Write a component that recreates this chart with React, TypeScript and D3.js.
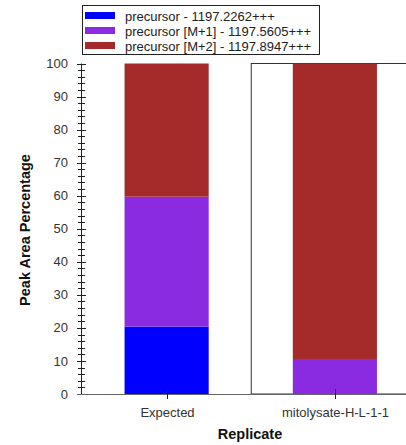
import React from "react";
import * as d3 from "d3";

const categories = ["Expected", "mitolysate-H-L-1-1"];
const seriesNames = [
  "precursor - 1197.2262+++",
  "precursor [M+1] - 1197.5605+++",
  "precursor [M+2] - 1197.8947+++",
];
const seriesColors = ["#0000FF", "#8A2BE2", "#A52A2A"];
const precursorM0 = [20.4, 0];
const precursorM1 = [39.3, 10.6];
const precursorM2 = [40.3, 89.4];
const yTicks = [0, 10, 20, 30, 40, 50, 60, 70, 80, 90, 100];
const selectedCategory = "mitolysate-H-L-1-1";

const W = 406;
const H = 445;
const FONT = "'Liberation Sans', Arial, sans-serif";

export default function App() {
  const left = 81;
  const top = 63.5;
  const bottom = 394;
  const x = d3.scaleBand().domain(categories).range([82.5, 419]).paddingInner(0).paddingOuter(0);
  const y = d3.scaleLinear().domain([0, 100]).range([bottom, top]);
  const minor = d3.range(0, 101, 2).filter((v) => v % 10 !== 0);

  const rows = categories.map((c, i) => ({
    cat: c,
    vals: [precursorM0[i], precursorM1[i], precursorM2[i]],
  }));
  const stack = d3
    .stack<any>()
    .keys(["0", "1", "2"])
    .value((d: any, k: string) => d.vals[+k]);
  const stacked = stack(rows);
  const bw = x.bandwidth() * 0.5;

  const selX = x(selectedCategory)!;

  return (
    <svg width={W} height={H} style={{ position: "absolute", left: 0, top: 0 }} fontFamily={FONT}>
      <rect x={0} y={0} width={W} height={H} fill="#fff" />
      {/* highlight box */}
      <rect x={selX + 0.5} y={top} width={x.bandwidth()} height={bottom - top} fill="none" stroke="#333" strokeWidth={1} />
      {/* bars */}
      {stacked.map((layer, li) =>
        layer.map((d: any, ci) => {
          const cx = x(d.data.cat)! + x.bandwidth() / 2;
          const h = y(d[0]) - y(d[1]);
          if (h <= 0) return null;
          return (
            <rect
              key={li + "-" + ci}
              x={cx - bw / 2}
              y={y(d[1])}
              width={bw}
              height={h}
              fill={seriesColors[li]}
            />
          );
        })
      )}
      {/* y axis */}
      <line x1={left + 0.5} x2={left + 0.5} y1={top} y2={bottom} stroke="#222" />
      {yTicks.map((t) => (
        <g key={t}>
          <line x1={left - 4} x2={left + 5} y1={Math.round(y(t)) + 0.5} y2={Math.round(y(t)) + 0.5} stroke="#222" />
          <text x={68} y={y(t)} dy="0.35em" textAnchor="end" fontSize={13} fill="#333">
            {t}
          </text>
        </g>
      ))}
      {minor.map((t) => (
        <line key={"m" + t} x1={left - 3} x2={left + 4} y1={Math.round(y(t)) + 0.5} y2={Math.round(y(t)) + 0.5} stroke="#222" />
      ))}
      {/* x axis */}
      <line x1={77} x2={W + 20} y1={bottom + 0.5} y2={bottom + 0.5} stroke="#666" />
      {categories.map((c) => {
        const cx = Math.round(x(c)! + x.bandwidth() / 2) + 0.5;
        return (
          <g key={c}>
            <line x1={cx} x2={cx} y1={bottom - 5} y2={bottom + 5} stroke="#222" />
            <text x={cx} y={417} textAnchor="middle" fontSize={13} fill="#333">
              {c}
            </text>
          </g>
        );
      })}
      {/* titles */}
      <text x={250} y={439} textAnchor="middle" fontSize={14.5} fontWeight="bold" fill="#111">
        Replicate
      </text>
      <text
        transform={`translate(30,230) rotate(-90)`}
        textAnchor="middle"
        fontSize={14.5}
        fontWeight="bold"
        fill="#111"
      >
        Peak Area Percentage
      </text>
      {/* legend */}
      <rect x={82.5} y={5.5} width={237} height={49} fill="#fff" stroke="#222" />
      {seriesNames.map((n, i) => (
        <g key={n}>
          <rect x={85} y={12 + i * 15} width={30} height={7} fill={seriesColors[i]} />
          <text x={125} y={20.5 + i * 15} fontSize={13} fill="#222">
            {n}
          </text>
        </g>
      ))}
    </svg>
  );
}
